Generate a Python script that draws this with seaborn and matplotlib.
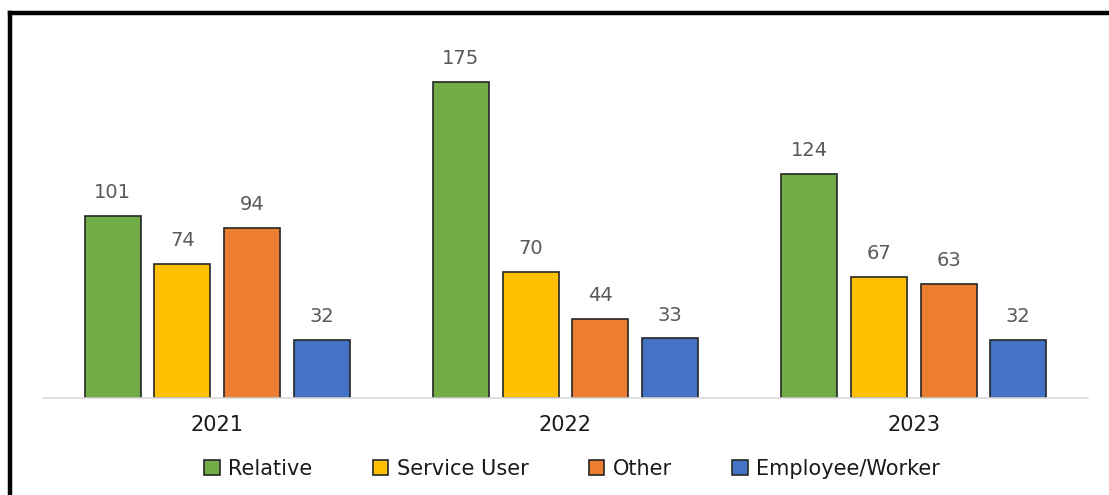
import matplotlib
matplotlib.use("Agg")
import matplotlib.pyplot as plt
import seaborn as sns
import pandas as pd
from matplotlib.lines import Line2D
from matplotlib.patches import Patch

years = ["2021", "2022", "2023"]
series = ["Relative", "Service User", "Other", "Employee/Worker"]
relative = [101, 175, 124]
service_user = [74, 70, 67]
other = [94, 44, 63]
employee = [32, 33, 32]
colors = ["#70AD47", "#FFC000", "#ED7D31", "#4472C4"]

rows = []
for s, vals in zip(series, [relative, service_user, other, employee]):
    for y, v in zip(years, vals):
        rows.append({"Year": y, "Series": s, "Value": v})
df = pd.DataFrame(rows)

sns.set_theme(style="white")
plt.rcParams['font.family'] = ['DejaVu Sans']

fig = plt.figure(figsize=(11.09, 4.95), dpi=100)
ax = fig.add_axes([43/1109, 97/495, (1088-43)/1109, (398-30)/495])

sns.barplot(data=df, x="Year", y="Value", hue="Series", order=years, hue_order=series,
            palette=colors, width=0.8, gap=0.2, edgecolor="#262626", linewidth=1.2,
            saturation=1, ax=ax, legend=False)

ax.set_ylim(0, (398-30)/1.806)
ax.set_xlim(-0.5, 2.5)
for c in ax.containers:
    ax.bar_label(c, padding=10, color="#595959", fontsize=14)

for sp in ["top", "right", "left"]:
    ax.spines[sp].set_visible(False)
ax.spines["bottom"].set_color("#D9D9D9")
ax.spines["bottom"].set_linewidth(1.2)
ax.set_yticks([])
ax.set_xlabel("")
ax.set_ylabel("")
ax.tick_params(axis="x", length=0, pad=12, labelsize=15, labelcolor="#1a1a1a")

handles = [Patch(facecolor=c, edgecolor="#262626", linewidth=1.2) for c in colors]
fig.legend(handles, series, loc="center", bbox_to_anchor=(572/1109, 1 - 469/495), ncol=4,
           frameon=False, fontsize=15, handlelength=0.75, handleheight=0.75,
           handletextpad=0.4, columnspacing=2.9, labelcolor="#1a1a1a")

# frame lines (left and top)
fig.add_artist(Line2D([10/1109, 10/1109], [0, 1 - 12.5/495], color="black", linewidth=3.2,
                      solid_capstyle="projecting", transform=fig.transFigure))
fig.add_artist(Line2D([10/1109, 1.0], [1 - 12.5/495, 1 - 12.5/495], color="black", linewidth=3.2,
                      solid_capstyle="projecting", transform=fig.transFigure))

fig.savefig("out.png", dpi=100)
